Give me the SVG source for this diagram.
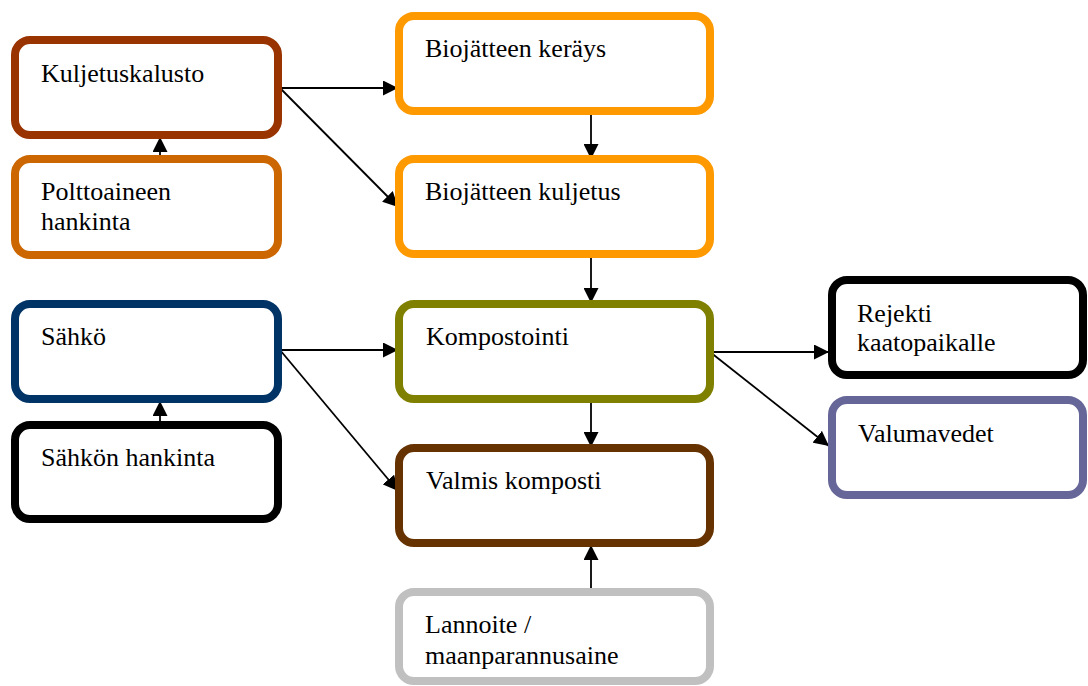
<svg xmlns="http://www.w3.org/2000/svg" width="1088" height="686" viewBox="0 0 1088 686">
<style>
.box{fill:#fff;stroke-width:8}
.lbl{font-family:"Liberation Serif","Times New Roman",serif;font-size:26px;fill:#000}
.con{stroke:#000;stroke-width:1.8;fill:none;marker-end:url(#ah)}
</style>
<defs>
<marker id="ah" markerUnits="userSpaceOnUse" markerWidth="15" markerHeight="15" refX="15" refY="7.5" orient="auto" viewBox="0 0 15 15">
<path d="M0,0 L15,7.5 L0,15 z" fill="#000"/>
</marker>
</defs>
<rect width="1088" height="686" fill="#fff"/>
<g id="connectors">
<line class="con" x1="160" y1="159" x2="160" y2="137"/>
<line class="con" x1="160" y1="425" x2="160" y2="401"/>
<line class="con" x1="280" y1="88" x2="398" y2="88"/>
<line class="con" x1="280" y1="88" x2="398" y2="207"/>
<line class="con" x1="591" y1="112" x2="591" y2="159"/>
<line class="con" x1="591" y1="256" x2="591" y2="303"/>
<line class="con" x1="280" y1="350" x2="398" y2="350"/>
<line class="con" x1="280" y1="350" x2="398" y2="491"/>
<line class="con" x1="591" y1="399" x2="591" y2="447"/>
<line class="con" x1="591" y1="592" x2="591" y2="545"/>
<line class="con" x1="710" y1="352" x2="829" y2="352"/>
<line class="con" x1="710" y1="352" x2="829" y2="446"/>
</g>
<g id="kuljetuskalusto">
<rect class="box" x="15" y="40" width="263" height="95" rx="15" stroke="#993300"/>
<text class="lbl" x="41" y="82">Kuljetuskalusto</text>
</g>
<g id="polttoaineen">
<rect class="box" x="15" y="159" width="263" height="96" rx="15" stroke="#CC6600"/>
<text class="lbl" x="41" y="200">Polttoaineen</text>
<text class="lbl" x="41" y="230">hankinta</text>
</g>
<g id="sahko">
<rect class="box" x="15" y="304" width="263" height="95" rx="15" stroke="#003366"/>
<text class="lbl" x="41" y="345">Sähkö</text>
</g>
<g id="sahkon-hankinta">
<rect class="box" x="15" y="425" width="263" height="94" rx="15" stroke="#000"/>
<text class="lbl" x="41" y="466">Sähkön hankinta</text>
</g>
<g id="biojatteen-keraus">
<rect class="box" x="399" y="16" width="311" height="95" rx="15" stroke="#FF9900"/>
<text class="lbl" x="425" y="57">Biojätteen keräys</text>
</g>
<g id="biojatteen-kuljetus">
<rect class="box" x="399" y="159" width="311" height="95" rx="15" stroke="#FF9900"/>
<text class="lbl" x="425" y="200">Biojätteen kuljetus</text>
</g>
<g id="kompostointi">
<rect class="box" x="399" y="304" width="311" height="95" rx="15" stroke="#808000"/>
<text class="lbl" x="426" y="345">Kompostointi</text>
</g>
<g id="valmis-komposti">
<rect class="box" x="399" y="448" width="311" height="95" rx="15" stroke="#663300"/>
<text class="lbl" x="426" y="489">Valmis komposti</text>
</g>
<g id="lannoite">
<rect class="box" x="399" y="592" width="311" height="89" rx="15" stroke="#C0C0C0"/>
<text class="lbl" x="425" y="633">Lannoite /</text>
<text class="lbl" x="425" y="664">maanparannusaine</text>
</g>
<g id="rejekti">
<rect class="box" x="832" y="280" width="251" height="95" rx="15" stroke="#000"/>
<text class="lbl" x="857" y="322">Rejekti</text>
<text class="lbl" x="857" y="351">kaatopaikalle</text>
</g>
<g id="valumavedet">
<rect class="box" x="832" y="400" width="251" height="95" rx="15" stroke="#666699"/>
<text class="lbl" x="858" y="442">Valumavedet</text>
</g>
</svg>
